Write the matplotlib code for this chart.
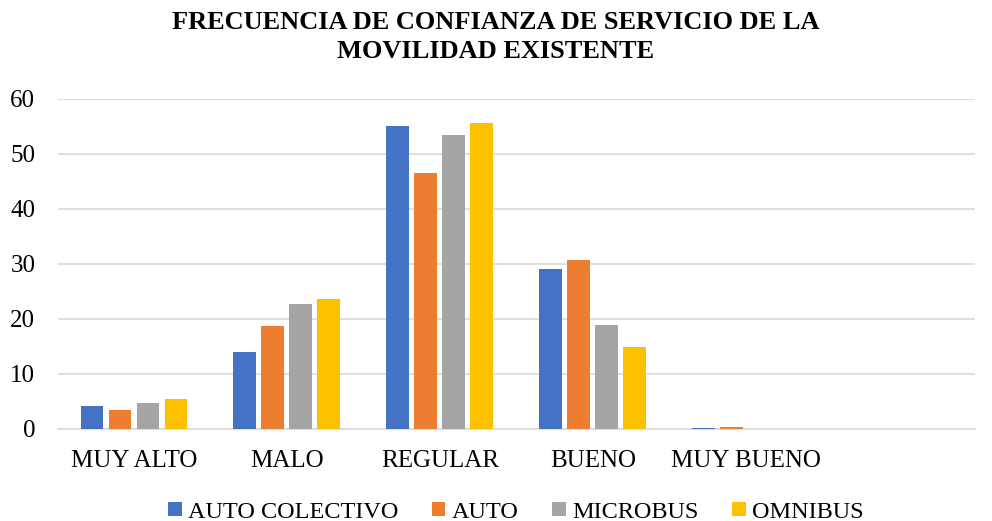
import numpy as np
import matplotlib.pyplot as plt

plt.rcParams['font.family'] = ['Liberation Serif', 'DejaVu Serif']

categories = ["MUY ALTO", "MALO", "REGULAR", "BUENO", "MUY BUENO", ""]
series = ["AUTO COLECTIVO", "AUTO", "MICROBUS", "OMNIBUS"]
auto_colectivo = [4.2, 14.0, 55.0, 29.1, 0.2, 0]
auto = [3.45, 18.7, 46.6, 30.7, 0.4, 0]
microbus = [4.7, 22.7, 53.4, 18.9, 0, 0]
omnibus = [5.45, 23.6, 55.6, 14.9, 0, 0]
colors = ['#4472C4', '#ED7D31', '#A5A5A5', '#FFC000']

fig, ax = plt.subplots(figsize=(9.92, 5.21), dpi=100)
fig.subplots_adjust(left=0.058, right=0.983, top=0.81, bottom=0.177)

x = np.arange(len(categories))
step = 0.183
for i, (vals, name) in enumerate(zip([auto_colectivo, auto, microbus, omnibus], series)):
    ax.bar(x + (i - 1.5) * step, vals, width=0.15, color=colors[i], label=name, zorder=3)

ax.set_xlim(-0.5, len(categories) - 0.5)
ax.set_ylim(0, 60)
ax.set_yticks(range(0, 61, 10))
ax.set_xticks(x)
ax.set_xticklabels(categories)
ax.grid(axis='y', color='#D9D9D9', linewidth=1.2, zorder=0)
for s in ['top', 'right', 'left']:
    ax.spines[s].set_visible(False)
ax.spines['bottom'].set_color('#D9D9D9')
ax.spines['bottom'].set_linewidth(1.2)
ax.tick_params(axis='both', length=0, labelsize=18, colors='#000000')
ax.tick_params(axis='x', pad=15)
ax.tick_params(axis='y', pad=16)

fig.suptitle("FRECUENCIA DE CONFIANZA DE SERVICIO DE LA\nMOVILIDAD EXISTENTE",
             fontsize=19, fontweight='bold', y=0.978, linespacing=1.3)

fig.legend(loc='lower center', ncol=4, frameon=False, fontsize=17.5,
           bbox_to_anchor=(0.52, -0.045), handlelength=0.55, handleheight=0.55,
           handletextpad=0.25, columnspacing=1.4)

fig.savefig("out.png")
